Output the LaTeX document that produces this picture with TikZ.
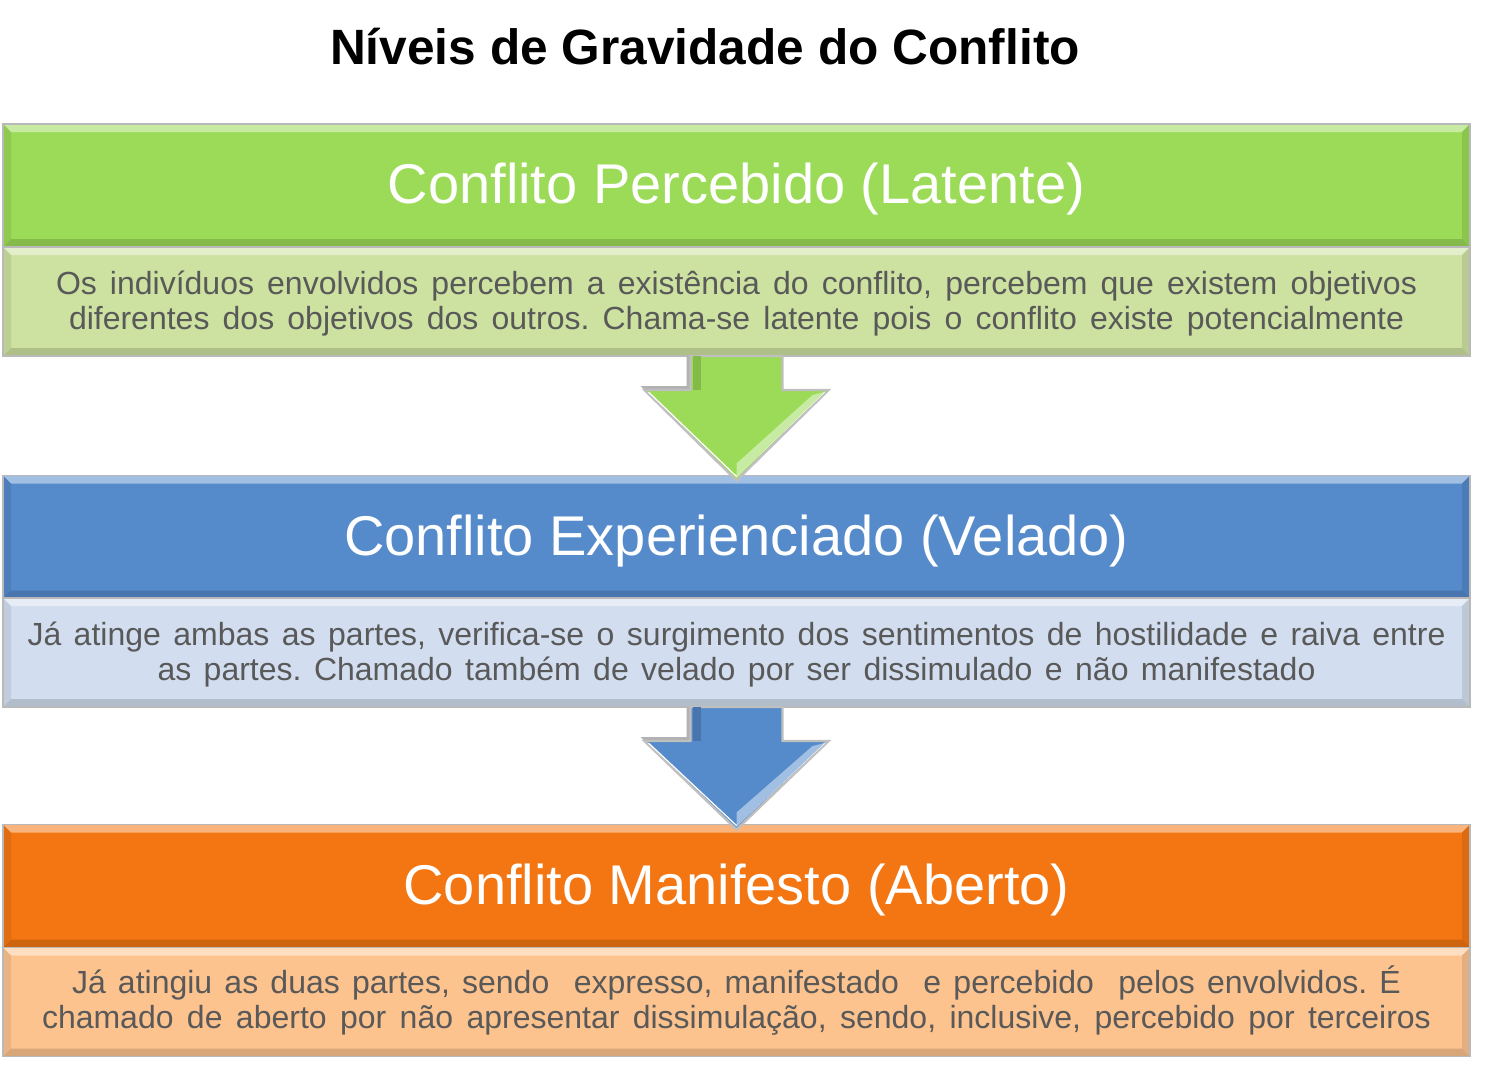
\documentclass[tikz,border=0pt]{standalone}
\usepackage{fontspec}
\setmainfont{Liberation Sans}
\usetikzlibrary{calc}
\frenchspacing
\definecolor{gH}{RGB}{155,219,87}
\definecolor{gB}{RGB}{205,226,160}
\definecolor{bH}{RGB}{85,138,203}
\definecolor{bB}{RGB}{210,222,239}
\definecolor{oH}{RGB}{244,118,18}
\definecolor{oB}{RGB}{253,195,142}
\definecolor{txt}{RGB}{89,89,89}
\newcommand\bvl[2]{%
  \fill[#2!55!white] (#1.north west) -- (#1.north east) -- ([shift={(-4pt,-4pt)}]#1.north east) -- ([shift={(4pt,-4pt)}]#1.north west) -- cycle;
  \fill[#2!92!black] (#1.north west) -- ([shift={(4pt,-4pt)}]#1.north west) -- ([shift={(4pt,4pt)}]#1.south west) -- (#1.south west) -- cycle;
  \fill[#2!90!black] (#1.north east) -- ([shift={(-4pt,-4pt)}]#1.north east) -- ([shift={(-4pt,4pt)}]#1.south east) -- (#1.south east) -- cycle;
  \fill[#2!85!black] (#1.south west) -- ([shift={(4pt,4pt)}]#1.south west) -- ([shift={(-4pt,4pt)}]#1.south east) -- (#1.south east) -- cycle;
  \draw[gray!55, line width=0.9pt] (#1.north west) rectangle (#1.south east);
}
\newcommand\dnarrow[3]{%
  \fill[gray!60] ([xshift=-25pt]#1.south) -- ([xshift=-25pt,yshift=-15pt]#1.south) -- ([xshift=-48pt,yshift=-15pt]#1.south) -- ([xshift=-46pt,yshift=-17pt]#1.south) -- ([xshift=-23pt,yshift=-17pt]#1.south) -- ([xshift=-23pt]#1.south) -- cycle;
  \filldraw[fill=#3, draw=gray!50, line width=1.2pt]
    ([xshift=-23pt]#1.south) -- ([xshift=-23pt,yshift=-17pt]#1.south) -- ([xshift=-46pt,yshift=-17pt]#1.south)
    -- ([yshift=-2.5pt]#2.north) -- ([xshift=46pt,yshift=-17pt]#1.south) -- ([xshift=23pt,yshift=-17pt]#1.south)
    -- ([xshift=23pt]#1.south) -- cycle;
  \draw[white, line width=0.6pt]
    ([xshift=-44pt,yshift=-18pt]#1.south) -- ([yshift=-0.5pt]#2.north) -- ([xshift=44pt,yshift=-18pt]#1.south);
  \fill[#3!55!white] ([xshift=44pt,yshift=-18pt]#1.south) -- ([yshift=-1pt]#2.north) -- ([yshift=6pt]#2.north) -- ([xshift=38pt,yshift=-19.5pt]#1.south) -- cycle;
  \fill[#3!85!black] ([xshift=-22pt]#1.south) -- ([xshift=-22pt,yshift=-17pt]#1.south) -- ([xshift=-18pt,yshift=-17pt]#1.south) -- ([xshift=-18pt]#1.south) -- cycle;
}
\begin{document}
\begin{tikzpicture}[x=0.5pt,y=-0.5pt,
  hdr/.style={rectangle, minimum width=733.5pt, minimum height=61.5pt, inner sep=0pt, outer sep=0pt},
  bdy/.style={rectangle, minimum width=733.5pt, minimum height=54.5pt, inner sep=0pt, outer sep=0pt},
  htxt/.style={text=white, font=\fontsize{28}{32}\selectfont},
  btxt/.style={text=txt, align=center, font=\fontsize{16}{17.5}\selectfont}]
\fill[white] (0,0) rectangle (1507,1070);
\useasboundingbox (0,0) rectangle (1507,1070);
\node[font=\bfseries\fontsize{24.8}{28}\selectfont] (title) at (705,47) {Níveis de Gravidade do Conflito};
% boxes
\node[hdr, fill=gH] (h1) at (736.5,185.5) {};
\node[bdy, fill=gB] (b1) at (736.5,301.5) {};
\node[hdr, fill=bH] (h2) at (736.5,537) {};
\node[bdy, fill=bB] (b2) at (736.5,652.5) {};
\node[hdr, fill=oH] (h3) at (736.5,886) {};
\node[bdy, fill=oB] (b3) at (736.5,1002) {};
\bvl{h1}{gH}\bvl{b1}{gB}
\bvl{h2}{bH}\bvl{b2}{bB}
\bvl{h3}{oH}\bvl{b3}{oB}
% texts
\node[htxt] (t1) at ([yshift=-2pt]h1.center) {Conflito Percebido (Latente)};
\node[htxt] (t2) at ([yshift=-2pt]h2.center) {Conflito Experienciado (Velado)};
\node[htxt] (t3) at ([yshift=-2pt]h3.center) {Conflito Manifesto (Aberto)};
\node[btxt] (d1) at ([yshift=-1pt]b1.center)
  {\makebox[680.5pt][s]{Os indivíduos envolvidos percebem a existência do conflito, percebem que existem objetivos}\\
   \makebox[667.5pt][s]{diferentes dos objetivos dos outros. Chama-se latente pois o conflito existe potencialmente}};
\node[btxt] (d2) at ([yshift=-1pt]b2.center)
  {\makebox[709pt][s]{Já atinge ambas as partes, verifica-se o surgimento dos sentimentos de hostilidade e raiva entre}\\
   \makebox[579pt][s]{as partes. Chamado também de velado por ser dissimulado e não manifestado}};
\node[btxt] (d3) at ([yshift=1pt]b3.center)
  {\makebox[664.5pt][s]{Já atingiu as duas partes, sendo\ \ expresso, manifestado\ \ e percebido\ \ pelos envolvidos. É}\\
   \makebox[694.5pt][s]{chamado de aberto por não apresentar dissimulação, sendo, inclusive, percebido por terceiros}};
% arrows
\dnarrow{b1}{h2}{gH}
\dnarrow{b2}{h3}{bH}
\end{tikzpicture}
\end{document}
